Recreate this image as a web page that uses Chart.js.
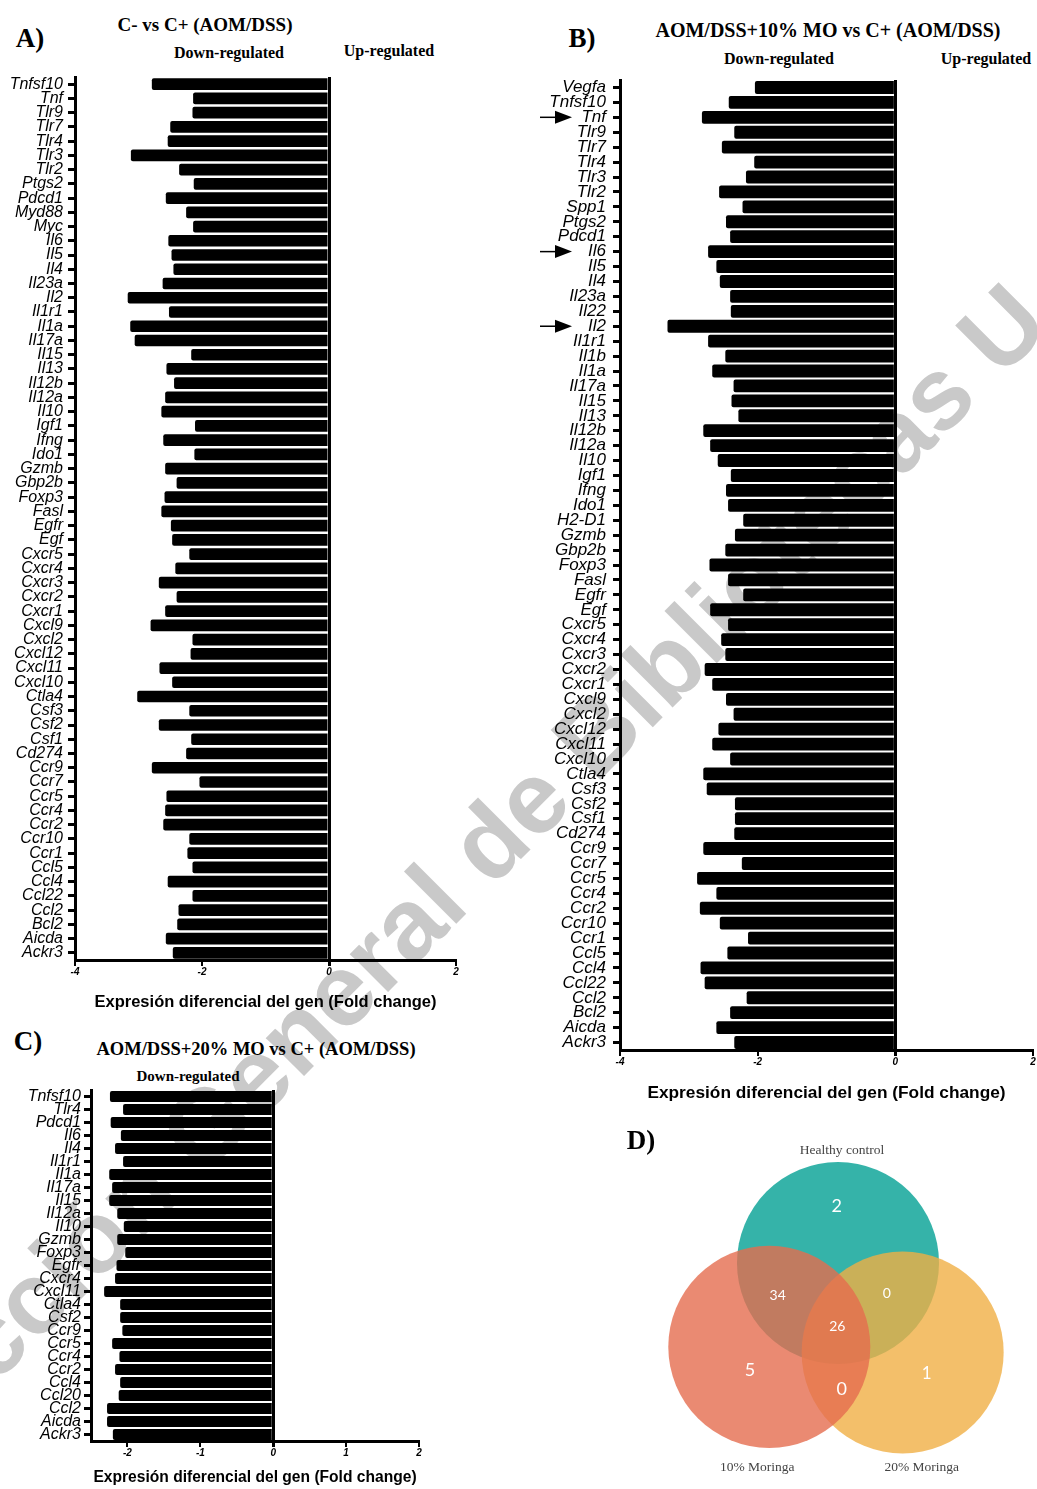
<!DOCTYPE html>
<html>
<head>
<meta charset="utf-8">
<script src="https://cdn.jsdelivr.net/npm/chart.js@4.4.0/dist/chart.umd.min.js"></script>
<style>
  body { margin: 0; background: #fff; width: 1037px; height: 1489px; position: relative; overflow: hidden; font-family: "Liberation Serif", "Times New Roman", serif; }
  canvas { position: absolute; z-index: 1; }
  .t { position: absolute; z-index: 2; white-space: nowrap; transform: translate(-50%, -50%); font-weight: bold; color: #000; }
  #wm { position: absolute; left: 0; top: 0; z-index: 0; }
</style>
</head>
<body>
<svg id="wm" width="1037" height="1489">
  <text x="-162" y="1542" transform="rotate(-45 -162 1542)" font-family="Liberation Sans, Arial, sans-serif" font-weight="bold" font-size="102" fill="#c9c9c9">Colección General de Bibliotecas U</text>
</svg>

<div class="t" style="left:30px;top:38px;font-size:27px">A)</div>
<div class="t" style="left:205px;top:25px;font-size:19px">C- vs C+ (AOM/DSS)</div>
<div class="t" style="left:229px;top:53px;font-size:16px">Down-regulated</div>
<div class="t" style="left:389px;top:51px;font-size:16px">Up-regulated</div>

<div class="t" style="left:582px;top:38px;font-size:27px">B)</div>
<div class="t" style="left:828px;top:30px;font-size:20px">AOM/DSS+10% MO vs C+ (AOM/DSS)</div>
<div class="t" style="left:779px;top:59px;font-size:16px">Down-regulated</div>
<div class="t" style="left:986px;top:59px;font-size:16px">Up-regulated</div>

<div class="t" style="left:28px;top:1041px;font-size:27px">C)</div>
<div class="t" style="left:256px;top:1049px;font-size:18.5px">AOM/DSS+20% MO vs C+ (AOM/DSS)</div>
<div class="t" style="left:188px;top:1076px;font-size:15px">Down-regulated</div>

<div class="t" style="left:641px;top:1140px;font-size:27px">D)</div>

<canvas id="chartA" width="470" height="945" style="left:0px;top:70px"></canvas>
<canvas id="chartB" width="497" height="1040" style="left:540px;top:70px"></canvas>
<canvas id="chartC" width="440" height="404" style="left:0px;top:1085px"></canvas>
<canvas id="chartD" width="397" height="359" style="left:640px;top:1130px"></canvas>

<script>
// Panel A: C- vs C+ (AOM/DSS)
const genesA = ['Tnfsf10','Tnf','Tlr9','Tlr7','Tlr4','Tlr3','Tlr2','Ptgs2','Pdcd1','Myd88','Myc','Il6','Il5','Il4','Il23a','Il2','Il1r1','Il1a','Il17a','Il15','Il13','Il12b','Il12a','Il10','Igf1','Ifng','Ido1','Gzmb','Gbp2b','Foxp3','Fasl','Egfr','Egf','Cxcr5','Cxcr4','Cxcr3','Cxcr2','Cxcr1','Cxcl9','Cxcl2','Cxcl12','Cxcl11','Cxcl10','Ctla4','Csf3','Csf2','Csf1','Cd274','Ccr9','Ccr7','Ccr5','Ccr4','Ccr2','Ccr10','Ccr1','Ccl5','Ccl4','Ccl22','Ccl2','Bcl2','Aicda','Ackr3'];
const foldA = [-2.79,-2.14,-2.15,-2.50,-2.54,-3.12,-2.36,-2.13,-2.57,-2.25,-2.14,-2.53,-2.48,-2.45,-2.62,-3.17,-2.52,-3.13,-3.06,-2.17,-2.56,-2.44,-2.58,-2.64,-2.11,-2.61,-2.12,-2.58,-2.40,-2.59,-2.64,-2.49,-2.47,-2.20,-2.42,-2.68,-2.40,-2.58,-2.81,-2.15,-2.18,-2.67,-2.47,-3.02,-2.20,-2.68,-2.17,-2.25,-2.79,-2.04,-2.56,-2.58,-2.61,-2.20,-2.23,-2.15,-2.54,-2.15,-2.37,-2.39,-2.57,-2.46];
const xTicksA = [-4, -2, 0, 2];

// Panel B: AOM/DSS+10% MO vs C+ (AOM/DSS)
const genesB = ['Vegfa','Tnfsf10','Tnf','Tlr9','Tlr7','Tlr4','Tlr3','Tlr2','Spp1','Ptgs2','Pdcd1','Il6','Il5','Il4','Il23a','Il22','Il2','Il1r1','Il1b','Il1a','Il17a','Il15','Il13','Il12b','Il12a','Il10','Igf1','Ifng','Ido1','H2-D1','Gzmb','Gbp2b','Foxp3','Fasl','Egfr','Egf','Cxcr5','Cxcr4','Cxcr3','Cxcr2','Cxcr1','Cxcl9','Cxcl2','Cxcl12','Cxcl11','Cxcl10','Ctla4','Csf3','Csf2','Csf1','Cd274','Ccr9','Ccr7','Ccr5','Ccr4','Ccr2','Ccr10','Ccr1','Ccl5','Ccl4','Ccl22','Ccl2','Bcl2','Aicda','Ackr3'];
const foldB = [-2.04,-2.42,-2.81,-2.34,-2.52,-2.05,-2.17,-2.56,-2.22,-2.46,-2.40,-2.72,-2.60,-2.55,-2.40,-2.39,-3.31,-2.72,-2.47,-2.66,-2.35,-2.38,-2.28,-2.79,-2.69,-2.58,-2.39,-2.46,-2.43,-2.21,-2.33,-2.47,-2.70,-2.43,-2.21,-2.69,-2.43,-2.53,-2.47,-2.77,-2.66,-2.46,-2.35,-2.57,-2.66,-2.40,-2.79,-2.74,-2.33,-2.33,-2.34,-2.79,-2.23,-2.88,-2.60,-2.84,-2.55,-2.14,-2.44,-2.83,-2.77,-2.16,-2.40,-2.60,-2.34];
const arrowGenesB = ['Tnf', 'Il6', 'Il2'];
const xTicksB = [-4, -2, 0, 2];

// Panel C: AOM/DSS+20% MO vs C+ (AOM/DSS)
const genesC = ['Tnfsf10','Tlr4','Pdcd1','Il6','Il4','Il1r1','Il1a','Il17a','Il15','Il12a','Il10','Gzmb','Foxp3','Egfr','Cxcr4','Cxcl11','Ctla4','Csf2','Ccr9','Ccr5','Ccr4','Ccr2','Ccl4','Ccl20','Ccl2','Aicda','Ackr3'];
const foldC = [-2.24,-2.06,-2.23,-2.09,-2.17,-2.06,-2.25,-2.21,-2.25,-2.14,-2.05,-2.14,-2.03,-2.15,-2.17,-2.32,-2.10,-2.10,-2.07,-2.21,-2.11,-2.17,-2.10,-2.12,-2.28,-2.28,-2.20];
const xTicksC = [-2, -1, 0, 1, 2];

// Panel D: Venn diagram (circle centres in radius units)
const vennSets = ['Healthy control', '10% Moringa', '20% Moringa'];
const vennCenterX = [0, -0.68, 0.64];
const vennCenterY = [0.84, 0.01, -0.046];
const vennRadius = [1, 1, 1];
const vennColors = ['rgba(3,160,148,0.8)', 'rgba(229,109,79,0.8)', 'rgba(240,175,69,0.8)'];
// regions: HC only, HC∩10, HC∩20, all, 10 only, 10∩20, 20 only
const vennCounts = [2, 34, 0, 26, 5, 0, 1];

const sans = 'Liberation Sans, Arial, sans-serif';
const axisTitle = 'Expresión diferencial del gen (Fold change)';

function barChart(id, genes, values, cfg, plugins) {
  return new Chart(document.getElementById(id), {
    type: 'bar',
    data: {
      labels: genes,
      datasets: [{
        data: values,
        backgroundColor: '#000',
        barPercentage: cfg.barPct,
        categoryPercentage: 1,
        borderRadius: 2
      }]
    },
    plugins: plugins || [],
    options: {
      indexAxis: 'y',
      responsive: false,
      animation: false,
      events: [],
      layout: { padding: cfg.padding },
      plugins: { legend: { display: false }, tooltip: { enabled: false } },
      scales: {
        x: {
          type: 'linear',
          min: cfg.xMin,
          max: cfg.xMax,
          z: 1,
          afterBuildTicks: s => { s.ticks = cfg.xTicks.map(v => ({ value: v })); },
          afterFit: s => { s.height = cfg.xAxisHeight; s.paddingLeft = 0; s.paddingRight = 0; },
          border: { display: true, width: 3, color: '#000' },
          grid: {
            drawOnChartArea: true,
            color: c => (c.tick && c.tick.value === 0) ? '#000' : 'rgba(0,0,0,0)',
            lineWidth: c => (c.tick && c.tick.value === 0) ? 3 : 2,
            tickColor: '#000',
            tickLength: 6
          },
          ticks: { color: '#000', padding: 0, font: { family: sans, size: 10, weight: 'bold', style: 'italic' } },
          title: {
            display: true,
            text: axisTitle,
            color: '#000',
            font: { family: sans, size: cfg.titleSize, weight: 'bold' },
            padding: { top: 0, bottom: cfg.titlePad }
          }
        },
        y: {
          afterFit: s => { s.width = cfg.yAxisWidth; s.paddingTop = 0; s.paddingBottom = 0; },
          border: { display: true, width: 3, color: '#000' },
          grid: { offset: false, drawOnChartArea: false, color: '#000', lineWidth: 3, tickLength: 7 },
          ticks: { autoSkip: false, color: '#000', padding: cfg.labelPad, font: { family: sans, size: cfg.labelSize, style: 'italic' } }
        }
      }
    }
  });
}

barChart('chartA', genesA, foldA, {
  xMin: -4, xMax: 2, xTicks: xTicksA, barPct: 0.82,
  padding: { top: 7, right: 14, bottom: 0, left: 0 },
  yAxisWidth: 75, xAxisHeight: 55,
  labelSize: 16, labelPad: 5, titleSize: 16.5, titlePad: 3
});

// arrows pointing at selected genes in panel B
const arrowPlugin = {
  id: 'geneArrows',
  afterDraw(chart) {
    const ctx = chart.ctx;
    const ys = chart.scales.y;
    const left = chart.chartArea.left;
    ctx.save();
    ctx.fillStyle = '#000';
    ctx.strokeStyle = '#000';
    ctx.lineWidth = 1.5;
    arrowGenesB.forEach(g => {
      const y = ys.getPixelForValue(genesB.indexOf(g));
      ctx.beginPath();
      ctx.moveTo(left - 80, y);
      ctx.lineTo(left - 62, y);
      ctx.stroke();
      ctx.beginPath();
      ctx.moveTo(left - 48, y);
      ctx.lineTo(left - 65, y - 6.5);
      ctx.lineTo(left - 65, y + 6.5);
      ctx.closePath();
      ctx.fill();
    });
    ctx.restore();
  }
};

barChart('chartB', genesB, foldB, {
  xMin: -4, xMax: 2, xTicks: xTicksB, barPct: 0.86,
  padding: { top: 80 - 70, right: 4, bottom: 0, left: 0 },
  yAxisWidth: 80, xAxisHeight: 60,
  labelSize: 17, labelPad: 7, titleSize: 17.3, titlePad: 6.5
}, [arrowPlugin]);

barChart('chartC', genesC, foldC, {
  xMin: -2.5, xMax: 2, xTicks: xTicksC, barPct: 0.84,
  padding: { top: 5, right: 21, bottom: 0, left: 0 },
  yAxisWidth: 91, xAxisHeight: 48,
  labelSize: 16, labelPad: 3, titleSize: 15.6, titlePad: 1.6
});

// label positions for the Venn (data units)
const vennLayout = {
  counts: [
    { x: -0.013, y: 1.404, size: 18 },
    { x: -0.597, y: 0.514, size: 14 },
    { x: 0.482, y: 0.534, size: 14 },
    { x: -0.007, y: 0.210, size: 14 },
    { x: -0.871, y: -0.217, size: 18 },
    { x: 0.037, y: -0.407, size: 18 },
    { x: 0.878, y: -0.249, size: 17 }
  ],
  sets: [
    { x: 0.04, y: 1.952 },
    { x: -0.799, y: -1.187 },
    { x: 0.829, y: -1.187 }
  ]
};

const vennText = {
  id: 'vennText',
  afterDatasetsDraw(chart) {
    const ctx = chart.ctx;
    const xs = chart.scales.x, ys = chart.scales.y;
    ctx.save();
    ctx.textAlign = 'center';
    ctx.textBaseline = 'middle';
    ctx.fillStyle = '#fff';
    vennCounts.forEach((n, i) => {
      const p = vennLayout.counts[i];
      ctx.font = p.size + 'px Lato, "Open Sans", sans-serif';
      ctx.fillText(String(n), xs.getPixelForValue(p.x), ys.getPixelForValue(p.y));
    });
    ctx.fillStyle = '#444';
    ctx.font = '13.5px "Liberation Serif", "Times New Roman", serif';
    vennSets.forEach((s, i) => {
      const p = vennLayout.sets[i];
      ctx.fillText(s, xs.getPixelForValue(p.x), ys.getPixelForValue(p.y));
    });
    ctx.restore();
  }
};

// draw order: teal at the bottom, then orange, red on top
const vennOrder = [3, 1, 2];
new Chart(document.getElementById('chartD'), {
  type: 'scatter',
  data: {
    datasets: vennSets.map((s, i) => ({
      label: s,
      data: [{ x: vennCenterX[i], y: vennCenterY[i] }],
      backgroundColor: vennColors[i],
      borderWidth: 0,
      order: vennOrder[i],
      clip: false,
      pointRadius: ctx => {
        const xs = ctx.chart.scales.x;
        return Math.abs(xs.getPixelForValue(vennRadius[i]) - xs.getPixelForValue(0));
      }
    }))
  },
  plugins: [vennText],
  options: {
    responsive: false,
    animation: false,
    events: [],
    layout: { padding: 0, autoPadding: false },
    plugins: { legend: { display: false }, tooltip: { enabled: false } },
    scales: {
      x: { type: 'linear', display: false, min: -1.96, max: 1.97 },
      y: { type: 'linear', display: false, min: -1.397, max: 2.157 }
    }
  }
});
</script>
</body>
</html>
